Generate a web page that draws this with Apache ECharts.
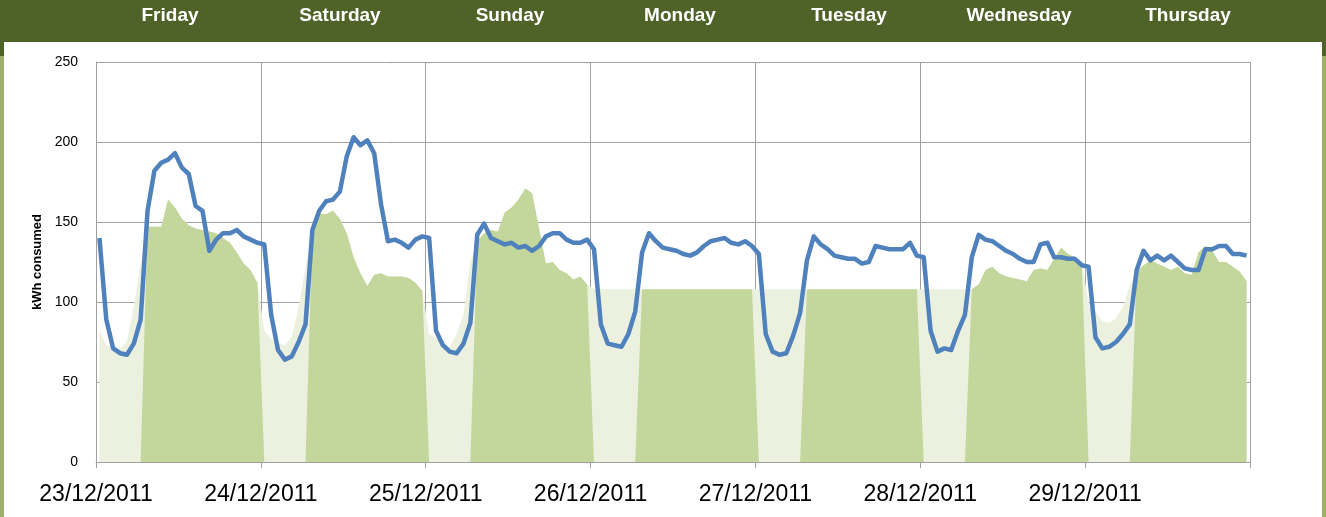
<!DOCTYPE html>
<html>
<head>
<meta charset="utf-8">
<script src="https://cdn.jsdelivr.net/npm/echarts@6/dist/echarts.min.js"></script>
<style>
  html, body { margin: 0; padding: 0; background: #9cb06a; }
  #chart { width: 1326px; height: 517px; }
</style>
</head>
<body>
<div id="chart"></div>
<script>
// day names in the header bar and date labels on the x axis
var days = ['Friday', 'Saturday', 'Sunday', 'Monday', 'Tuesday', 'Wednesday', 'Thursday'];
var dates = ['23/12/2011', '24/12/2011', '25/12/2011', '26/12/2011', '27/12/2011', '28/12/2011', '29/12/2011'];

// hourly kWh, 24 values per day, Fri 23/12 -> Thu 29/12
var actual = [
  140, 89, 71, 68, 67, 74, 89, 157, 182, 187, 189, 193, 184, 180, 160, 157, 132, 139, 143, 143, 145, 141, 139, 137,
  136, 92, 70, 64, 66, 75, 86, 145, 157, 163, 164, 169, 191, 203, 198, 201, 193, 161, 138, 139, 137, 134, 139, 141,
  140, 82, 73, 69, 68, 74, 87, 142, 149, 140, 138, 136, 137, 134, 135, 132, 135, 141, 143, 143, 139, 137, 137, 139,
  133, 86, 74, 73, 72, 80, 94, 131, 143, 138, 134, 133, 132, 130, 129, 131, 135, 138, 139, 140, 137, 136, 138, 135,
  130, 80, 69, 67, 68, 79, 93, 126, 141, 136, 133, 129, 128, 127, 127, 124, 125, 135, 134, 133, 133, 133, 137, 129,
  128, 82, 69, 71, 70, 82, 92, 128, 142, 139, 138, 135, 132, 130, 127, 125, 125, 136, 137, 128, 128, 127, 127, 123,
  122, 78, 71, 72, 75, 80, 86, 120, 132, 126, 129, 126, 129, 125, 121, 120, 120, 133, 133, 135, 135, 130, 130, 129
];

// expected profile (light fill)
var baseline = [
  82, 73, 72, 71, 75, 97, 124, 147, 147, 147, 164, 159, 152, 148, 146, 145, 144, 143, 140, 137, 131, 124, 120, 112,
  82, 77, 74, 73, 78, 97, 122, 145, 155, 155, 157, 152, 143, 128, 118, 110, 117, 118, 116, 116, 116, 115, 112, 107,
  80, 78, 74, 72, 80, 92, 125, 138, 143, 145, 144, 156, 159, 164, 171, 168, 146, 124, 125, 120, 118, 114, 116, 111,
  108, 108, 108, 108, 108, 108, 108, 108, 108, 108, 108, 108, 108, 108, 108, 108, 108, 108, 108, 108, 108, 108, 108, 108,
  108, 108, 108, 108, 108, 108, 108, 108, 108, 108, 108, 108, 108, 108, 108, 108, 108, 108, 108, 108, 108, 108, 108, 108,
  108, 108, 108, 108, 108, 108, 108, 108, 111, 120, 122, 118, 116, 115, 114, 113, 120, 121, 120, 127, 134, 130, 128, 125,
  100, 94, 88, 87, 90, 97, 110, 119, 123, 126, 124, 122, 120, 122, 118, 117, 131, 135, 132, 125, 125, 122, 119, 113
];

// expected profile during occupied hours (dark fill)
var occupied = [
  0, 0, 0, 0, 0, 0, 0, 147, 147, 147, 164, 159, 152, 148, 146, 145, 144, 143, 140, 137, 131, 124, 120, 112,
  0, 0, 0, 0, 0, 0, 0, 145, 155, 155, 157, 152, 143, 128, 118, 110, 117, 118, 116, 116, 116, 115, 112, 107,
  0, 0, 0, 0, 0, 0, 0, 138, 143, 145, 144, 156, 159, 164, 171, 168, 146, 124, 125, 120, 118, 114, 116, 111,
  0, 0, 0, 0, 0, 0, 0, 108, 108, 108, 108, 108, 108, 108, 108, 108, 108, 108, 108, 108, 108, 108, 108, 108,
  0, 0, 0, 0, 0, 0, 0, 108, 108, 108, 108, 108, 108, 108, 108, 108, 108, 108, 108, 108, 108, 108, 108, 108,
  0, 0, 0, 0, 0, 0, 0, 108, 111, 120, 122, 118, 116, 115, 114, 113, 120, 121, 120, 127, 134, 130, 128, 125,
  0, 0, 0, 0, 0, 0, 0, 119, 123, 126, 124, 122, 120, 122, 118, 117, 131, 135, 132, 125, 125, 122, 119, 113
];

function pts(arr) {
  return arr.map(function (v, i) { return [i + 0.5, v]; });
}

var myChart = echarts.init(document.getElementById('chart'));

var header = [
  { type: 'rect', shape: { x: 0, y: 0, width: 1326, height: 56 }, style: { fill: '#4f6228' }, z: -10 },
  { type: 'rect', shape: { x: 4, y: 42, width: 1318, height: 475 }, style: { fill: '#ffffff' }, z: -9 }
];
var headerX = [170, 340, 510, 680, 849, 1019, 1188];
days.forEach(function (d, i) {
  header.push({
    type: 'text',
    x: headerX[i],
    y: 16,
    style: {
      text: d,
      fill: '#ffffff',
      font: 'bold 19px "Liberation Sans", Arial, sans-serif',
      textAlign: 'center',
      textVerticalAlign: 'middle'
    }
  });
});

var option = {
  animation: false,
  backgroundColor: '#9cb06a',
  graphic: header,
  grid: { left: 96, right: 76, top: 62, bottom: 55 },
  xAxis: {
    type: 'value',
    min: 0,
    max: 168,
    interval: 24,
    axisLine: { show: true, lineStyle: { color: '#a0a0a0', width: 1 } },
    axisTick: { show: true, length: 6, inside: false, lineStyle: { color: '#a0a0a0' } },
    splitLine: { show: true, lineStyle: { color: '#a0a0a0', width: 1 } },
    axisLabel: {
      margin: 21,
      color: '#000',
      fontSize: 23,
      fontFamily: '"Liberation Sans", Arial, sans-serif',
      formatter: function (val) {
        var k = Math.round(val / 24);
        return dates[k] || '';
      }
    }
  },
  yAxis: {
    type: 'value',
    min: 0,
    max: 250,
    interval: 50,
    name: 'kWh consumed',
    nameLocation: 'middle',
    nameGap: 52,
    nameTextStyle: {
      color: '#000',
      fontSize: 13,
      fontWeight: 'bold',
      fontFamily: '"Liberation Sans", Arial, sans-serif'
    },
    axisLine: { show: true, lineStyle: { color: '#a0a0a0', width: 1 } },
    axisTick: { show: false },
    splitLine: { show: true, lineStyle: { color: '#a0a0a0', width: 1 } },
    axisLabel: {
      margin: 18,
      color: '#000',
      fontSize: 14,
      fontFamily: '"Liberation Sans", Arial, sans-serif'
    }
  },
  series: [
    {
      name: 'baseline',
      type: 'line',
      data: pts(baseline),
      showSymbol: false,
      symbol: 'none',
      lineStyle: { width: 0 },
      areaStyle: { color: '#ebf1de', opacity: 1 },
      z: 1
    },
    {
      name: 'occupied',
      type: 'line',
      data: pts(occupied),
      showSymbol: false,
      symbol: 'none',
      lineStyle: { width: 0 },
      areaStyle: { color: '#c3d69b', opacity: 1 },
      z: 2
    },
    {
      name: 'actual',
      type: 'line',
      data: pts(actual),
      showSymbol: false,
      symbol: 'none',
      lineStyle: { color: '#4f81bd', width: 4.5, join: 'round' },
      z: 3
    }
  ]
};
myChart.setOption(option, true);
</script>
</body>
</html>
